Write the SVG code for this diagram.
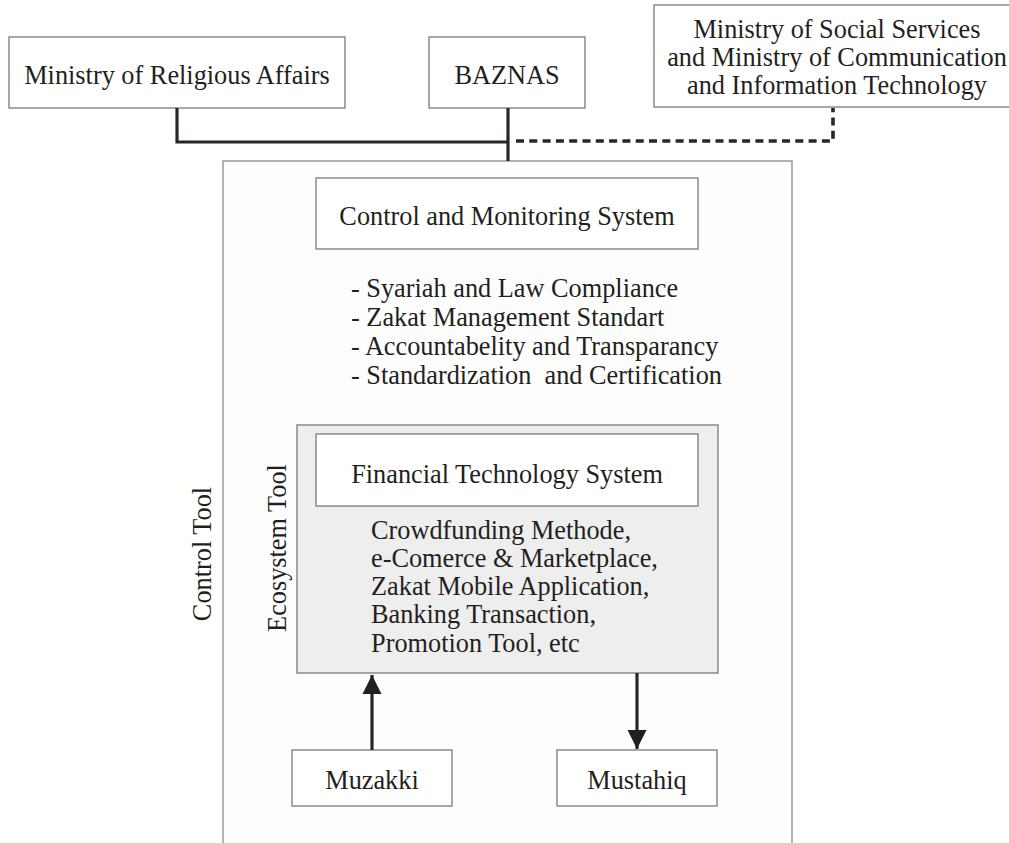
<svg xmlns="http://www.w3.org/2000/svg" width="1009" height="843" viewBox="0 0 1009 843">
<style>
  text { font-family: "Liberation Serif", "Times New Roman", serif; font-size: 26.3px; fill: #231f20; }
  .c { text-anchor: middle; }
  .pre { white-space: pre; }
  .box { fill: #ffffff; stroke: #7a7a7a; stroke-width: 1.3; }
  .outer { fill: #fdfdfd; stroke: #9a9a9a; stroke-width: 1.5; }
  .eco { fill: #eeeeee; stroke: #8a8a8a; stroke-width: 1.5; }
  .solid { fill: none; stroke: #2a2627; stroke-width: 3.2; }
  .dash { fill: none; stroke: #2a2627; stroke-width: 3.6; stroke-dasharray: 8 5.3; }
</style>
<defs>
  <marker id="ah" viewBox="0 0 10 10" refX="10" refY="5" markerWidth="6" markerHeight="6" markerUnits="strokeWidth" orient="auto">
    <path d="M0,0 L10,5 L0,10 Z" fill="#231f20"/>
  </marker>
</defs>
<rect width="1009" height="843" fill="#ffffff"/>

<g id="control-tool">
  <path class="outer" d="M223,843 L223,161 L792,161 L792,843"/>
  <text class="c" transform="translate(211,554) rotate(-90)">Control Tool</text>
</g>

<g id="ministry-religious">
  <rect class="box" x="9" y="37" width="336" height="71"/>
  <text class="c" x="177" y="84">Ministry of Religious Affairs</text>
</g>

<g id="baznas">
  <rect class="box" x="429" y="37" width="156" height="71"/>
  <text class="c" x="507" y="84">BAZNAS</text>
</g>

<g id="ministry-social">
  <rect class="box" x="654" y="5" width="360" height="102"/>
  <text class="c" x="837" y="38">Ministry of Social Services</text>
  <text class="c" x="837" y="66">and Ministry of Communication</text>
  <text class="c" x="837" y="94">and Information Technology</text>
</g>

<g id="control-monitoring">
  <rect class="box" x="316" y="178" width="382" height="71"/>
  <text class="c" x="507" y="225">Control and Monitoring System</text>
  <text x="351" y="297">- Syariah and Law Compliance</text>
  <text x="351" y="326">- Zakat Management Standart</text>
  <text x="351" y="355">- Accountabelity and Transparancy</text>
  <text class="pre" x="351" y="384">- Standardization  and Certification</text>
</g>

<g id="ecosystem-tool">
  <rect class="eco" x="297" y="425" width="421" height="248"/>
  <text class="c" transform="translate(286,548) rotate(-90)">Ecosystem Tool</text>
</g>

<g id="fintech">
  <rect class="box" x="316" y="434" width="382" height="72"/>
  <text class="c" x="507" y="483">Financial Technology System</text>
  <text x="371" y="539">Crowdfunding Methode,</text>
  <text x="371" y="567">e-Comerce &amp; Marketplace,</text>
  <text x="371" y="595">Zakat Mobile Application,</text>
  <text x="371" y="623">Banking Transaction,</text>
  <text x="371" y="652">Promotion Tool, etc</text>
</g>

<g id="muzakki">
  <rect class="box" x="292" y="750" width="160" height="56"/>
  <text class="c" x="372" y="789">Muzakki</text>
</g>

<g id="mustahiq">
  <rect class="box" x="557" y="750" width="160" height="56"/>
  <text class="c" x="637" y="789">Mustahiq</text>
</g>

<g id="connectors">
  <path class="solid" d="M177,108 L177,142 L508,142"/>
  <path class="solid" d="M508,108 L508,161"/>
  <path class="dash" d="M516,141 L833,141 L833,108"/>
  <path class="solid" d="M372,750 L372,675" marker-end="url(#ah)"/>
  <path class="solid" d="M637,673 L637,749" marker-end="url(#ah)"/>
</g>
</svg>
